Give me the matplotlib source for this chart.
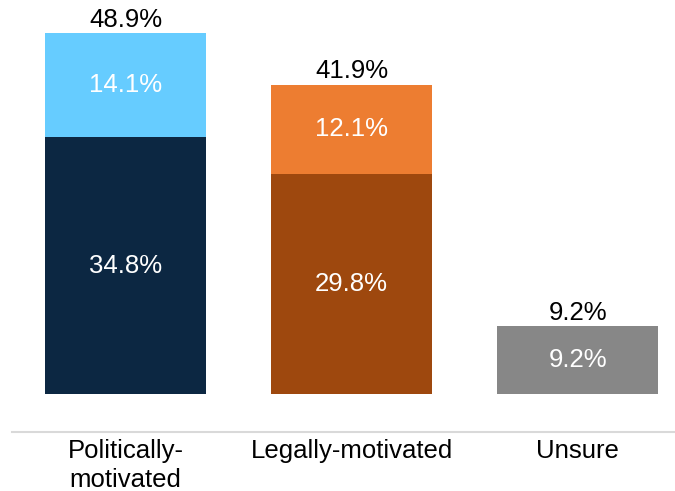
import matplotlib
matplotlib.use("Agg")
import matplotlib.pyplot as plt
import numpy as np

plt.rcParams['font.family'] = ['Liberation Sans', 'DejaVu Sans']

categories = ['Politically-\nmotivated', 'Legally-motivated', 'Unsure']
base_vals = [34.8, 29.8, 9.2]
top_vals = [14.1, 12.1, 0.0]
totals = [48.9, 41.9, 9.2]

base_colors = ['#0C2742', '#9E480E', '#878787']
top_colors = ['#66CCFF', '#ED7D31', '#878787']

fig = plt.figure(figsize=(6.75, 4.91), dpi=100)
ax = fig.add_axes([12/675, 59/491, 663/675, 432/491])

x = np.arange(len(categories))
w = 0.712
ax.bar(x, base_vals, width=w, color=base_colors)
ax.bar(x, top_vals, width=w, bottom=base_vals, color=top_colors)

fs = 18.5
for i in range(len(categories)):
    ax.text(x[i], base_vals[i] / 2, f'{base_vals[i]:.1f}%', ha='center', va='center',
            color='white', fontsize=fs)
    if top_vals[i] > 0:
        ax.text(x[i], base_vals[i] + top_vals[i] / 2, f'{top_vals[i]:.1f}%', ha='center',
                va='center', color='white', fontsize=fs)
    ax.annotate(f'{totals[i]:.1f}%', (x[i], totals[i]), xytext=(0, 1), textcoords='offset points',
                ha='center', va='bottom', color='black', fontsize=fs)

ax.set_xlim(-0.502, 2.431)
ax.set_ylim(-5.15, 53.4)
ax.set_xticks(x)
ax.set_xticklabels(categories, fontsize=fs, linespacing=1.25)
ax.tick_params(axis='x', length=0, pad=5)
ax.set_yticks([])
for s in ['top', 'right', 'left']:
    ax.spines[s].set_visible(False)
ax.spines['bottom'].set_color('#D9D9D9')
ax.spines['bottom'].set_linewidth(1.5)

fig.savefig('out.png', dpi=100)
